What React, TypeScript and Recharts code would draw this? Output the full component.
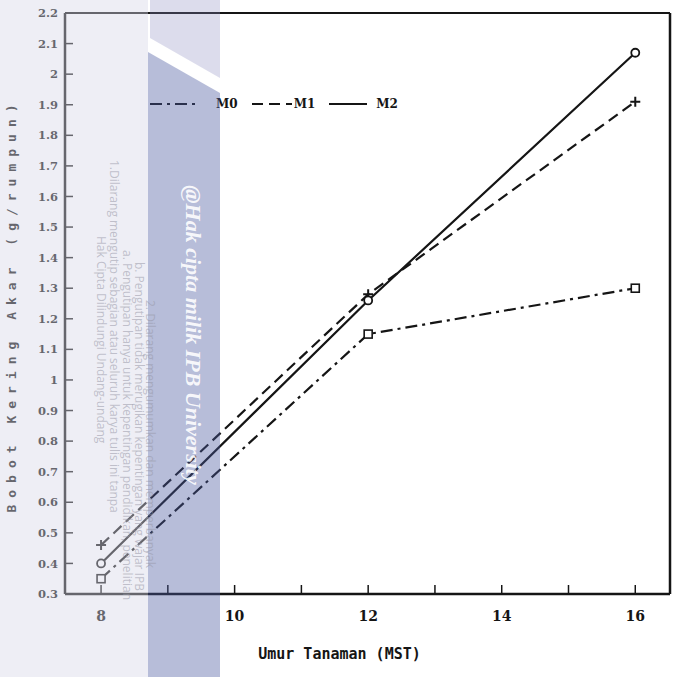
import { LineChart, Line, XAxis, YAxis, Legend, ReferenceLine } from 'recharts';

const weeks = [8, 12, 16];
const m0Values = [0.35, 1.15, 1.3];
const m1Values = [0.46, 1.28, 1.91];
const m2Values = [0.4, 1.26, 2.07];

const xTicks = [8, 9, 10, 11, 12, 13, 14, 15, 16];
const xTickLabels = ['8', '', '10', '', '12', '', '14', '', '16'];
const yTicks = [0.3, 0.4, 0.5, 0.6, 0.7, 0.8, 0.9, 1, 1.1, 1.2, 1.3, 1.4, 1.5, 1.6, 1.7, 1.8, 1.9, 2, 2.1, 2.2];
const yTickLabels = ['0.3', '0.4', '0.5', '0.6', '0.7', '0.8', '0.9', '1', '1.1', '1.2', '1.3', '1.4', '1.5', '1.6', '1.7', '1.8', '1.9', '2', '2.1', '2.2'];

const X_MIN = 7.46;
const X_MAX = 16.52;
const INK = '#151515';
const DASH_DOT = '12 5 3 5';
const DASHED = '11 6';

const data = weeks.map((w, i) => ({ week: w, M0: m0Values[i], M1: m1Values[i], M2: m2Values[i] }));

const SERIES = [
  { key: 'M0', dash: DASH_DOT, sample: 50, gap: 16 },
  { key: 'M1', dash: DASHED, sample: 40, gap: 2 },
  { key: 'M2', dash: undefined, sample: 38, gap: 9 },
];

const SquareDot = (props: any) => {
  const { cx, cy } = props;
  return <rect key={`sq-${cx}-${cy}`} x={cx - 4} y={cy - 4} width={8} height={8} fill="#fff" stroke={INK} strokeWidth={1.6} />;
};

const PlusDot = (props: any) => {
  const { cx, cy } = props;
  return (
    <path key={`pl-${cx}-${cy}`} d={`M${cx - 5},${cy}H${cx + 5}M${cx},${cy - 5}V${cy + 5}`} stroke={INK} strokeWidth={2} />
  );
};

const CircleDot = (props: any) => {
  const { cx, cy } = props;
  return <circle key={`ci-${cx}-${cy}`} cx={cx} cy={cy} r={4} fill="#fff" stroke={INK} strokeWidth={1.8} />;
};

function LegendContent() {
  return (
    <div style={{ display: 'flex', alignItems: 'center' }}>
      {SERIES.map((s) => (
        <div key={s.key} style={{ display: 'flex', alignItems: 'center', marginRight: 14 }}>
          <svg width={s.sample + s.gap} height={10}>
            <line x1={0} y1={5} x2={s.sample} y2={5} stroke={INK} strokeWidth={2.2} strokeDasharray={s.dash} />
          </svg>
          <span style={{ fontFamily: '"DejaVu Serif", serif', fontWeight: 'bold', fontSize: 12, color: INK }}>{s.key}</span>
        </div>
      ))}
    </div>
  );
}

export default function App() {
  return (
    <div style={{ position: 'absolute', left: 0, top: 0, width: 676, height: 677, background: '#fff', overflow: 'hidden' }}>
      <LineChart width={676} height={677} data={data} margin={{ top: 13, right: 6, bottom: 43, left: 0 }}>
        <XAxis
          dataKey="week"
          type="number"
          domain={[X_MIN, X_MAX]}
          ticks={xTicks}
          tickFormatter={(v: number) => xTickLabels[xTicks.indexOf(v)] ?? ''}
          tickSize={-9}
          tickMargin={26}
          height={40}
          axisLine={{ stroke: INK, strokeWidth: 2.5 }}
          tickLine={{ stroke: INK, strokeWidth: 1.5 }}
          tick={{ fill: INK, fontSize: 14, fontWeight: 'bold', fontFamily: '"DejaVu Serif", serif' }}
          allowDataOverflow
          label={{
            content: ({ viewBox }: any) => (
              <text
                x={viewBox.x + viewBox.width / 2 - 28}
                y={659}
                textAnchor="middle"
                fontFamily='"DejaVu Sans Mono", monospace'
                fontWeight="bold"
                fontSize={15}
                fill={INK}
              >
                Umur Tanaman (MST)
              </text>
            ),
          }}
        />
        <YAxis
          type="number"
          domain={[0.3, 2.2]}
          ticks={yTicks}
          tickFormatter={(v: number) => yTickLabels[yTicks.indexOf(v)] ?? ''}
          interval={0}
          tickSize={-8}
          tickMargin={15}
          width={65}
          axisLine={{ stroke: INK, strokeWidth: 2.5 }}
          tickLine={{ stroke: INK, strokeWidth: 1.5 }}
          tick={{ fill: INK, fontSize: 11.5, fontWeight: 'bold', fontFamily: '"DejaVu Serif", serif' }}
          allowDataOverflow
          label={{
            content: () => (
              <text
                transform="translate(16, 305) rotate(-90)"
                textAnchor="middle"
                fontFamily='"DejaVu Sans Mono", monospace'
                fontWeight="bold"
                fontSize={13}
                letterSpacing={7}
                fill={INK}
              >
                Bobot Kering Akar (g/rumpun)
              </text>
            ),
          }}
        />
        <ReferenceLine y={2.2} stroke={INK} strokeWidth={2} />
        <ReferenceLine x={X_MAX} stroke={INK} strokeWidth={2.5} />
        <Legend
          layout="horizontal"
          verticalAlign="middle"
          align="center"
          content={<LegendContent />}
          wrapperStyle={{ top: 97, left: 150, width: 300 }}
        />
        <Line
          dataKey="M0"
          stroke={INK}
          strokeWidth={2.2}
          strokeDasharray={DASH_DOT}
          dot={SquareDot}
          isAnimationActive={false}
        />
        <Line
          dataKey="M1"
          stroke={INK}
          strokeWidth={2.2}
          strokeDasharray={DASHED}
          dot={PlusDot}
          isAnimationActive={false}
        />
        <Line dataKey="M2" stroke={INK} strokeWidth={2.2} dot={CircleDot} isAnimationActive={false} />
      </LineChart>

      {/* repository watermark laid over the scan */}
      <svg width={676} height={677} style={{ position: 'absolute', left: 0, top: 0, pointerEvents: 'none' }}>
        <rect x={0} y={0} width={148} height={677} fill="rgba(214,214,231,0.42)" />
        <polygon points="150,0 220,0 220,78 150,38" fill="rgba(138,138,192,0.3)" />
        <polygon points="148,52 220,93 220,677 148,677" fill="rgba(75,90,160,0.4)" />
        <g fill="rgba(150,150,165,0.55)" fontFamily='"Open Sans", sans-serif' fontSize={12}>
          <text transform="translate(97, 236) rotate(90)">Hak Cipta Dilindungi Undang-undang</text>
          <text transform="translate(110, 160) rotate(90)">1.Dilarang mengutip sebagian atau seluruh karya tulis ini tanpa</text>
          <text transform="translate(123, 250) rotate(90)">a. Pengutipan hanya untuk kepentingan pendidikan, penelitian</text>
          <text transform="translate(135, 262) rotate(90)">b. Pengutipan tidak merugikan kepentingan yang wajar IPB</text>
          <text transform="translate(146, 300) rotate(90)">2. Dilarang mengumumkan dan memperbanyak</text>
        </g>
        <text
          transform="translate(186, 335) rotate(90)"
          textAnchor="middle"
          fontFamily='"Liberation Serif", serif'
          fontStyle="italic"
          fontWeight="bold"
          fontSize={22}
          fill="rgba(255,255,255,0.9)"
        >
          @Hak cipta milik IPB University
        </text>
      </svg>
    </div>
  );
}
